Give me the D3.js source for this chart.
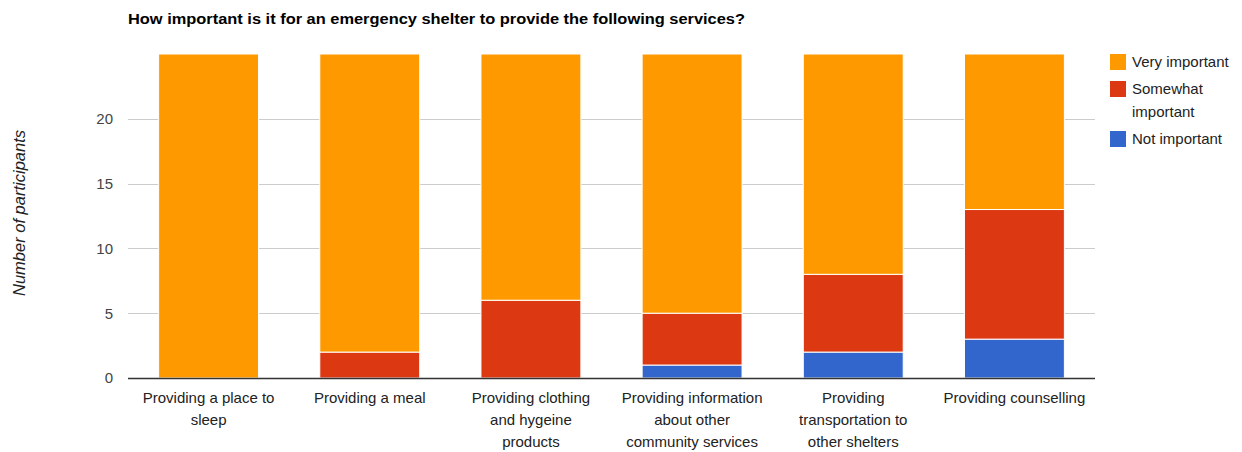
<!DOCTYPE html>
<html>
<head>
<meta charset="utf-8">
<script src="https://cdn.jsdelivr.net/npm/d3@7"></script>
<style>
  html, body { margin: 0; padding: 0; background: #fff; }
  svg { display: block; font-family: "Liberation Sans", Arial, Helvetica, sans-serif; }
</style>
</head>
<body>
<svg id="chart" width="1242" height="452"></svg>
<script>
// Survey responses per service (number of participants)
const categories = [
  ["Providing a place to", "sleep"],
  ["Providing a meal"],
  ["Providing clothing", "and hygeine", "products"],
  ["Providing information", "about other", "community services"],
  ["Providing", "transportation to", "other shelters"],
  ["Providing counselling"]
];
const notImportant      = [0, 0, 0, 1, 2, 3];
const somewhatImportant = [0, 2, 6, 4, 6, 10];
const veryImportant     = [25, 23, 19, 20, 17, 12];

const seriesNames  = ["Not important", "Somewhat important", "Very important"];
const seriesColors = ["#3366cc", "#dc3912", "#ff9900"];
const yTicks = [0, 5, 10, 15, 20];
const chartTitle = "How important is it for an emergency shelter to provide the following services?";
const yTitle = "Number of participants";

const svg = d3.select("#chart");
const margin = { left: 128, right: 147, top: 54, bottom: 74 };
const W = 1242, H = 452;
const plotW = W - margin.left - margin.right;
const plotH = H - margin.top - margin.bottom;

const rows = categories.map((c, i) => ({
  key: i,
  "Not important": notImportant[i],
  "Somewhat important": somewhatImportant[i],
  "Very important": veryImportant[i]
}));

const x = d3.scaleBand().domain(d3.range(categories.length)).range([0, plotW]).paddingInner(0.38).paddingOuter(0.19);
const y = d3.scaleLinear().domain([0, 25]).range([plotH, 0]);

const g = svg.append("g").attr("transform", `translate(${margin.left},${margin.top})`);

// Title
svg.append("text")
  .attr("x", 128).attr("y", 24)
  .attr("font-size", 14).attr("font-weight", "bold").attr("fill", "#000")
  .attr("textLength", 617).attr("lengthAdjust", "spacingAndGlyphs")
  .text(chartTitle);

// Gridlines
g.append("g").selectAll("line").data(yTicks.filter(t => t > 0)).join("line")
  .attr("x1", 0).attr("x2", plotW)
  .attr("y1", d => Math.round(y(d)) + 0.5).attr("y2", d => Math.round(y(d)) + 0.5)
  .attr("stroke", "#cccccc").attr("stroke-width", 1);

// Y axis labels
const yAxis = d3.axisLeft(y).tickValues(yTicks).tickSize(0).tickPadding(15);
const ya = g.append("g").call(yAxis);
ya.select(".domain").remove();
ya.selectAll("text").attr("font-size", 15).attr("fill", "#444").attr("font-family", "Liberation Sans, Arial, sans-serif");

// Stacked bars
const stack = d3.stack().keys(seriesNames)(rows);
g.append("g").selectAll("g").data(stack).join("g")
  .attr("fill", (d, i) => seriesColors[i])
  .selectAll("rect").data(d => d.filter(s => s[1] - s[0] > 0)).join("rect")
  .attr("x", d => x(d.data.key))
  .attr("width", x.bandwidth())
  .attr("y", d => y(d[1]))
  .attr("height", d => y(d[0]) - y(d[1]))
  .attr("stroke", "#ffffff").attr("stroke-width", 1);

// Baseline
g.append("line").attr("x1", 0).attr("x2", plotW)
  .attr("y1", plotH + 0.5).attr("y2", plotH + 0.5)
  .attr("stroke", "#333").attr("stroke-width", 1.3);

// X labels (multi-line)
const xl = g.append("g").selectAll("text").data(categories).join("text")
  .attr("text-anchor", "middle")
  .attr("font-size", 15).attr("fill", "#222")
  .attr("transform", (d, i) => `translate(${x(i) + x.bandwidth() / 2},${plotH + 25})`);
xl.selectAll("tspan").data(d => d).join("tspan")
  .attr("x", 0).attr("dy", (d, i) => i === 0 ? 0 : 22)
  .text(d => d);

// Y title
svg.append("text")
  .attr("transform", `translate(25,${margin.top + plotH / 2 - 3}) rotate(-90)`)
  .attr("text-anchor", "middle").attr("font-size", 16.5).attr("font-style", "italic").attr("fill", "#222")
  .text(yTitle);

// Legend
const legend = [
  { name: ["Very important"], color: seriesColors[2], y: 54 },
  { name: ["Somewhat", "important"], color: seriesColors[1], y: 81 },
  { name: ["Not important"], color: seriesColors[0], y: 131 }
];
const lg = svg.append("g").selectAll("g").data(legend).join("g")
  .attr("transform", d => `translate(1110,${d.y})`);
lg.append("rect").attr("width", 16).attr("height", 16).attr("fill", d => d.color);
const lt = lg.append("text").attr("x", 22).attr("y", 13).attr("font-size", 15).attr("fill", "#222");
lt.selectAll("tspan").data(d => d.name).join("tspan")
  .attr("x", 22).attr("dy", (d, i) => i === 0 ? 0 : 23).text(d => d);
</script>
</body>
</html>
